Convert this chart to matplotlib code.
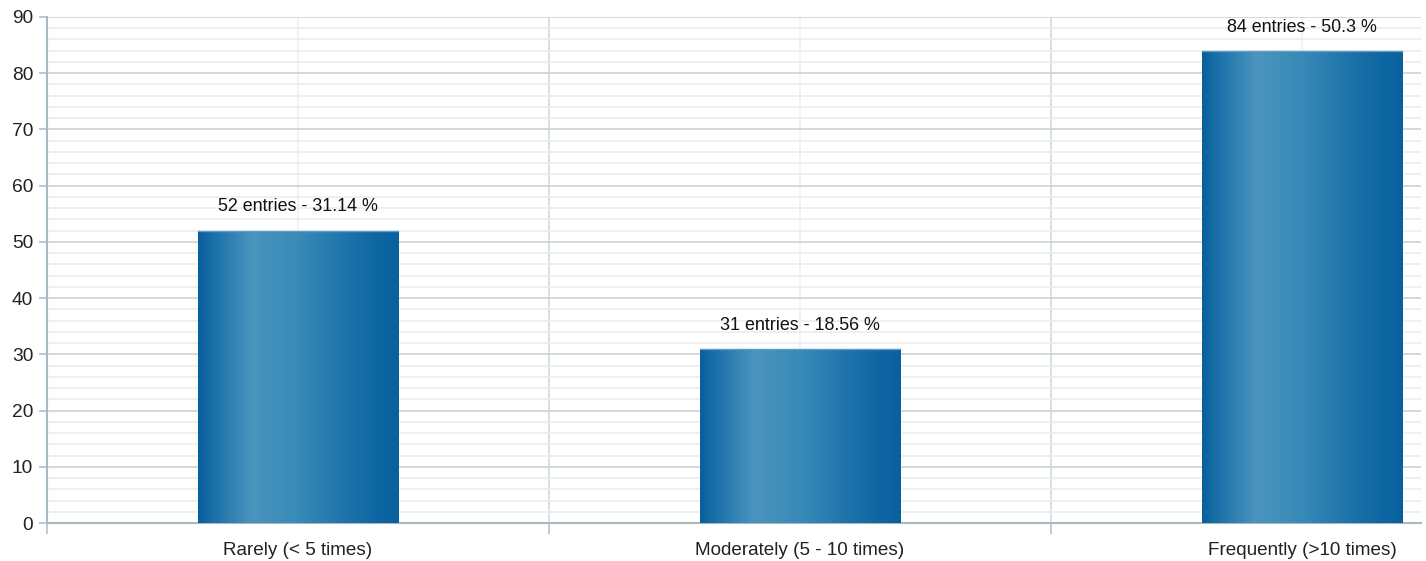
import numpy as np
import matplotlib.pyplot as plt
from matplotlib.colors import LinearSegmentedColormap
from matplotlib.ticker import MultipleLocator

categories = ["Rarely (< 5 times)", "Moderately (5 - 10 times)", "Frequently (>10 times)"]
entries = [52, 31, 84]
percents = ["31.14", "18.56", "50.3"]

plt.rcParams["font.family"] = ["Liberation Sans", "DejaVu Sans"]

# horizontal shading used inside each bar
shade = LinearSegmentedColormap.from_list("shade", [
    (0.0, "#0a5f9c"), (0.08, "#1b71a9"), (0.27, "#4b94be"),
    (0.5, "#388ab8"), (0.72, "#1f74ab"), (0.9, "#0d66a2"), (1.0, "#0a609d")])

fig = plt.figure(figsize=(14.26, 5.61), dpi=100)
ax = fig.add_axes([47 / 1426, 1 - 523 / 561, 1374 / 1426, 506 / 561])

x = np.arange(len(categories))
width = 0.4
bars = ax.bar(x, entries, width=width, facecolor="none", edgecolor="none", zorder=3)

grad = np.linspace(0, 1, 256).reshape(1, -1)
for b, n, p in zip(bars, entries, percents):
    x0 = b.get_x()
    im = ax.imshow(grad, cmap=shade, aspect="auto", interpolation="bicubic",
                   extent=(x0, x0 + b.get_width(), 0, b.get_height()), zorder=3)
    im.set_clip_path(b)
    ax.plot([x0, x0 + b.get_width()], [n, n], color="#5e9cc4", lw=1, zorder=4)
    ax.text(b.get_x() + b.get_width() / 2, n + 2.7, f"{n} entries - {p} %",
            ha="center", va="bottom", fontsize=12.9, color="#111111", zorder=5)

# category boundaries carry the tick marks, labels sit at the centres
ax.set_xticks(np.arange(-0.5, 3, 1))
ax.set_xticklabels([])
ax.set_xticks(x, minor=True)
ax.set_xticklabels(categories, minor=True, fontsize=13.6, color="#222222")
ax.tick_params(axis="x", which="major", length=8, color="#b4c2ca", width=1.2)
ax.tick_params(axis="x", which="minor", length=0, pad=14)

ax.set_xlim(-0.5, 2.237)
ax.set_ylim(0, 90)

ax.yaxis.set_major_locator(MultipleLocator(10))
ax.yaxis.set_minor_locator(MultipleLocator(2))
ax.tick_params(axis="y", which="major", length=6, color="#b4c2ca", width=1.2,
               labelsize=13.8, labelcolor="#222222", pad=4)
ax.tick_params(axis="y", which="minor", length=0)

ax.grid(which="major", axis="y", color="#c9d3d9", lw=1.2, zorder=0)
ax.grid(which="minor", axis="y", color="#e9edef", lw=1.2, zorder=0)
ax.grid(which="major", axis="x", color="#d2dbe0", lw=1.2, zorder=0)
ax.grid(which="minor", axis="x", color="#eef1f3", lw=1.2, zorder=0)
ax.set_axisbelow(True)

for side in ["top", "right"]:
    ax.spines[side].set_visible(False)
for side in ["left", "bottom"]:
    ax.spines[side].set_color("#a9b9c2")
    ax.spines[side].set_linewidth(1.5)

fig.savefig("out.png", dpi=100)
